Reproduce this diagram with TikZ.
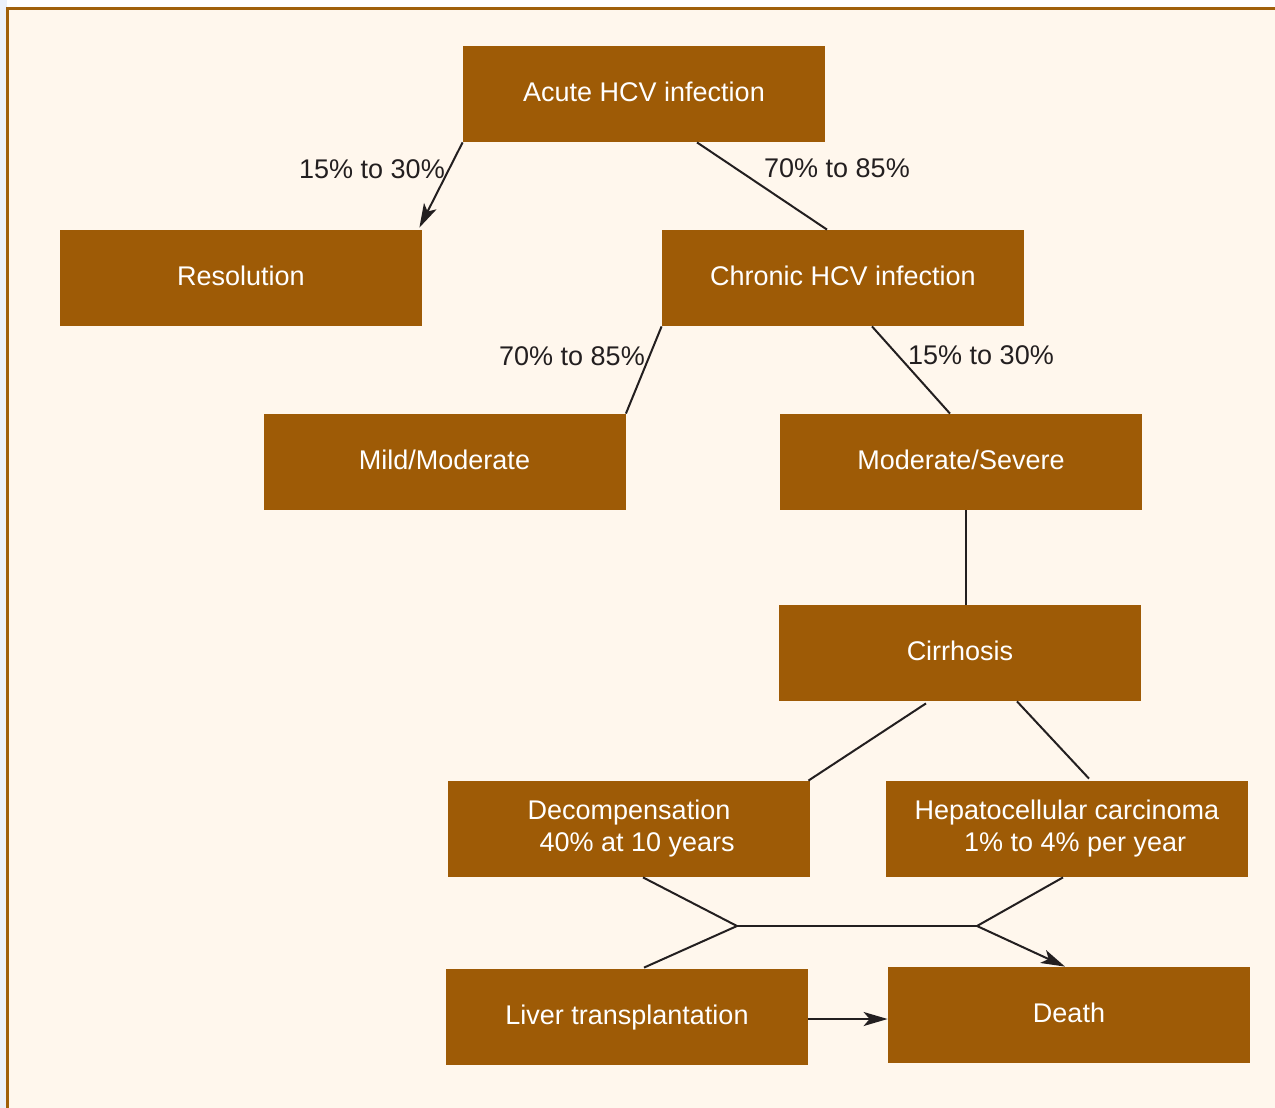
\documentclass[tikz,border=0pt]{standalone}
\usepackage{fontspec}
\setmainfont{Liberation Sans}
\usetikzlibrary{arrows.meta}
\definecolor{hcvbrown}{RGB}{158,91,6}
\definecolor{hcvcream}{RGB}{255,247,237}
\definecolor{hcvframe}{RGB}{160,96,10}
\definecolor{hcvink}{RGB}{35,31,32}
\definecolor{hcvedge}{RGB}{236,241,250}

\begin{document}
\begin{tikzpicture}[x=0.5pt,y=-0.5pt,
	box/.style={fill=hcvbrown,text=white,minimum width=181pt,minimum height=48pt,inner sep=0pt,align=center,font=\fontsize{13.5}{16}\selectfont},
	flat/.style={box,text height=9.7pt,text depth=2pt},
	lbl/.style={text=hcvink,inner sep=0pt,font=\fontsize{13.5}{16}\selectfont},
	link/.style={draw=hcvink,line width=1pt},
	tip/.style={-{Stealth[length=12pt,width=7pt,inset=3pt]}}]
	% draw background and frame
	\useasboundingbox (0,0) rectangle (1275,1108);
	\fill[white] (0,0) rectangle (1275,1108);
	\fill[hcvedge] (0,0) rectangle (7,1108);
	\fill[hcvcream] (7,8) rectangle (1275,1108);
	\draw[hcvframe,line width=1.5pt] (7.5,1108) -- (7.5,8.5) -- (1275,8.5);
	% draw boxes
	\node[flat] (acute) at (644,94) {Acute HCV infection};
	\node[flat] (res) at (241,278) {Resolution};
	\node[flat] (chronic) at (843,278) {Chronic HCV infection};
	\node[flat] (mild) at (444.5,462) {Mild/Moderate};
	\node[flat] (modsev) at (961,462) {Moderate/Severe};
	\node[flat] (cirr) at (960,653) {Cirrhosis};
	\node[box] (decomp) at (629,829) {Decompensation\\\hspace*{0.6em}40\% at 10 years};
	\node[box] (hcc) at (1067,829) {Hepatocellular carcinoma\\\hspace*{0.6em}1\% to 4\% per year};
	\node[flat] (liver) at (627,1017) {Liver transplantation};
	\node[flat] (death) at (1069,1015) {Death};
	% draw labels
	\node[lbl] (p1) at (372,169) {15\% to 30\%};
	\node[lbl] (p2) at (837,168) {70\% to 85\%};
	\node[lbl] (p3) at (572,356) {70\% to 85\%};
	\node[lbl] (p4) at (981,355) {15\% to 30\%};
	% junction points
	\coordinate (jl) at (737,926);
	\coordinate (jr) at (977,926);
	% draw connectors
	\draw[link,tip] (acute.south west) -- ([xshift=-1.5pt,yshift=1pt]res.north east);
	\draw[link] ([xshift=26.5pt]acute.south) -- ([xshift=-8pt]chronic.north);
	\draw[link] (chronic.south west) -- (mild.north east);
	\draw[link] ([xshift=14.5pt]chronic.south) -- ([xshift=-5.5pt]modsev.north);
	\draw[link] ([xshift=2.5pt]modsev.south) -- ([xshift=2.5pt]modsev.south |- cirr.north);
	\draw[link] ([xshift=-17pt,yshift=-1pt]cirr.south) -- ([xshift=-1pt]decomp.north east);
	\draw[link] ([xshift=28.5pt]cirr.south) -- ([xshift=11pt,yshift=1pt]hcc.north);
	\draw[link] ([xshift=7pt]decomp.south) -- (jl);
	\draw[link] ([xshift=8.5pt,yshift=0.5pt]liver.north) -- (jl);
	\draw[link] (jl) -- (jr);
	\draw[link] ([xshift=-2pt]hcc.south) -- (jr);
	\draw[link,tip] (jr) -- ([xshift=-2pt]death.north);
	\draw[link,tip] ([yshift=-1pt]liver.east) -- ([yshift=-1pt]liver.east -| death.west);
\end{tikzpicture}
\end{document}
